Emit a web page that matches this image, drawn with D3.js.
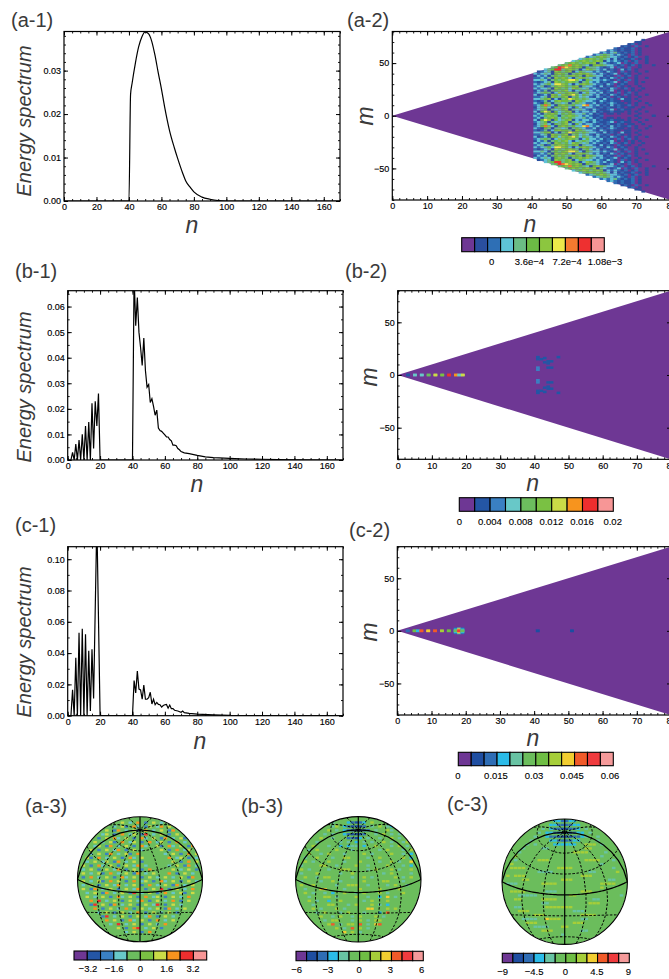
<!DOCTYPE html>
<html>
<head>
<meta charset="utf-8">
<script src="https://cdn.jsdelivr.net/npm/d3@7"></script>
<style>
    html, body { margin: 0; padding: 0; background: #fff; overflow: hidden; }
    svg { display: block; font-family: 'Liberation Sans', Arial, sans-serif; }
    .tick text { fill: #000; font-size: 9px; stroke: #000; stroke-width: 0.15px; }
    .title { fill: #3a3a3a; font-size: 20px; }
    .axisName { fill: #3a3a3a; font-style: italic; text-anchor: middle; }
    .legendLabel { fill: #000; font-size: 9.5px; text-anchor: middle; stroke: #000; stroke-width: 0.12px; }
</style>
</head>
<body>
<svg id="fig" width="669" height="979"></svg>
<script>
// spectra: [n, energy]
const a1Spectrum = [[0, 0], [40, 0], [41, 0.0245], [42, 0.0272], [44, 0.0318], [46, 0.0355], [48, 0.0378], [50, 0.0389], [52, 0.0385],
    [54, 0.0368], [56, 0.0336], [58, 0.0296], [60, 0.0258], [62, 0.0216], [65, 0.0162], [68, 0.0122], [70, 0.0098], [73, 0.0065],
    [75, 0.0046], [78, 0.0030], [80, 0.0021], [85, 0.0009], [90, 0.0004], [95, 0.0001], [100, 0], [170, 0]];

const b1Spectrum = [[0, 0], [2, 0], [3, 0.003], [4, 0], [5, 0.0062], [6, 0], [7, 0.0078], [8, 0], [9, 0.0101], [10, 0], [11, 0.0133], [12, 0],
    [13, 0.0148], [14, 0], [15, 0.0222], [16, 0.0045], [17, 0.023], [18, 0.0133], [19, 0.026], [20, 0], [40, 0], [41, 0.072], [42, 0.0525],
    [43, 0.0635], [44, 0.05], [45, 0.044], [46, 0.037], [47, 0.0477], [48, 0.035], [49, 0.0285], [50, 0.0295], [51, 0.0225], [52, 0.024],
    [53, 0.021], [54, 0.0175], [55, 0.0195], [56, 0.0125], [57, 0.0115], [58, 0.0112], [59, 0.0105], [60, 0.0098], [61, 0.009], [62, 0.009],
    [63, 0.008], [64, 0.0075], [65, 0.0058], [66, 0.0058], [67, 0.0056], [68, 0.0045], [69, 0.004], [70, 0.0033], [72, 0.0028], [75, 0.0025],
    [80, 0.0018], [85, 0.0012], [90, 0.0009], [100, 0.0006], [110, 0.0004], [120, 0.0003], [140, 0.0001], [170, 0]];

const c1Spectrum = [[0, 0], [2, 0], [3, 0.0165], [4, 0], [5, 0.037], [6, 0], [7, 0.053], [8, 0], [9, 0.0555], [10, 0], [11, 0.052], [12, 0],
    [13, 0.0415], [14, 0.003], [15, 0.0425], [16, 0.011], [18, 0.125], [20, 0], [40, 0], [41, 0.0225], [42, 0.0145], [43, 0.0285], [44, 0.017],
    [45, 0.0165], [46, 0.0105], [47, 0.0195], [48, 0.0105], [49, 0.0105], [50, 0.0115], [51, 0.015], [52, 0.0075], [53, 0.0105], [54, 0.007],
    [55, 0.0085], [56, 0.0072], [57, 0.007], [58, 0.0055], [59, 0.0065], [60, 0.007], [61, 0.0072], [62, 0.0048], [63, 0.0068], [64, 0.0045],
    [65, 0.0045], [66, 0.0035], [68, 0.003], [70, 0.0022], [71, 0.003], [72, 0.002], [75, 0.0015], [80, 0.001], [90, 0.0005], [100, 0.0002],
    [120, 0.0001], [170, 0]];

// (a-2) one string per |m| = 0, 2, 4 ..., one colour index per n from 41; "." lies outside the wedge
const a2Rows = [
    "3235654145654323211200000000010000100000",
    "2314565354543342312101101001001000000000",
    "3157615345613233231211211101010010000000",
    "2345143456143432132112301211001000000000",
    "1346315456315323321212112101100100000000",
    "2358631565453378323121312112010001000000",
    "3215414434145432231212321101010010000000",
    "2124135655416543321321211011001000000000",
    "3345613145765454332131210311010000000000",
    "2234165456145343213212012101001000000000",
    "3123165365675354323121321021010010000000",
    "2345413645654135332312102012010000000000",
    "1324145456313454323212301010101000000000",
    "3233416545365434232121320120100100000000",
    "2341245665456143321312102101001000000000",
    "3234537765313565432213201210010000000000",
    "2123416545654145323121230120010100000000",
    "3343145456776315433232102102010000000000",
    "2232416565314654323121320210010010000000",
    "1323145454565416543312102012010000000000",
    "3234315654145656432321230121001000000000",
    ".123416545613543323213210201010010000000",
    "...3459945654136543231210312010000000000",
    ".....45987656515443212302102001000000000",
    ".......456856543156543321201201000100000",
    ".........456545656143212302102001000000",
    "...........345654565132321201200100000",
    ".............345654543131211201010000",
    "...............234565433212012001000",
    ".................234543232102010000",
    "...................232342121201000",
    ".....................232121120100",
    ".......................212112010000",
    ".........................12102001",
    "...........................1201000",
    ".............................110000",
    "...............................10000"
];

// (b-2), (c-2): [n, |m|, colour index] for the few cells off the background
const b2Cells = [[3, 0, 1], [5, 0, 3], [7, 0, 3], [9, 0, 4], [11, 0, 6], [13, 0, 5], [15, 0, 8], [17, 0, 7], [18, 0, 3], [19, 0, 6],
    [41, 17, 1], [41, 15, 1], [41, 7, 2], [41, 5, 2], [42, 15, 1], [43, 16, 1], [43, 12, 1], [44, 13, 1], [44, 11, 1], [44, 7, 1],
    [45, 13, 1], [45, 7, 1], [47, 17, 1]];

const c2Cells = [[3, 0, 2], [5, 0, 6], [6, 0, 3], [7, 0, 9], [9, 0, 8], [11, 0, 9], [13, 0, 7], [15, 0, 6], [17, 2, 2], [17, 1, 3], [17, 0, 5],
    [18, 2, 4], [18, 1, 8], [18, 0, 10], [19, 2, 2], [19, 1, 3], [19, 0, 5], [41, 0, 1], [51, 0, 1]];

const a3Grid = [
    "................................",
    "...........6.3.7.2.6.3..........",
    ".........3.62.73.26.37.6.3......",
    ".......6.27.3.62.7.3.6.27.3.....",
    "......36.2.7.36.28.3.6.2.6.3....",
    ".....2.6.73.6.2.73.6.27.3.62....",
    "....6.3.62.7.36.2.7.36.2.7.3.6..",
    "....36.27.3.6.2.73..62.73.6.27..",
    "...6.2.6.37.2.6.3....6.2.7.36.3.",
    "...3.6.27.3.62.7......3.6.2.7.6.",
    "..62.7.3.6.2.73.6......7.36.2.3.",
    "..3.6.36.27.3.6.2.......6.2.7.6.",
    ".6.2.73.6.2.6.37.3.....3.6.27.3.",
    ".3.6.2.6.37.2.6.2.7.....6.3.6.2.",
    ".6.3.62.7.3.6.27.3.6...7.2.6.3..",
    ".2.7.3.6.2.73.6.2.6.3.6.3.6.27..",
    ".6.3.62.7.6.2.7.36.2.73.6.2.6.3.",
    ".3.6.2.6.37.3.6.2.7.3.6.27.3.6..",
    ".6.27.3.6.2.6.37.2.6.8.2.6.3.7..",
    "..3.6.27.3.6.28.3.6.2.7.3.62.6..",
    "..6.3.6.2.73.6.2.7.36.2.6.3.7...",
    "...7.8.3.6.2.6.37.2.6.3.7.2.6...",
    "...28.6.27.3.6.2.6.38.2.6.3.....",
    "....7.2.6.3.7.2.6.3.6.27.3.6....",
    ".....3.6.2.6.3.7.2.6.3.6.2......",
    "......28.3.6.2.6.37.2.6.3.......",
    ".......7.6.2.73.6.2.7.3.6.......",
    "........3.8.3.6.2.6.3.7.........",
    "..........6.2.78.3.6.2..........",
    "............3.6.2.7.............",
    "................................",
    "................................"
];

const b3Grid = [
    "................................",
    ".........4...32123.7...4........",
    ".........47.321112.4.7.43.......",
    "........7.4.3211112.4..74.......",
    ".......4.4..321112..4.7.4.4.....",
    "......7..4...2213.4..4..7.4.7...",
    ".....4.....4.4.3.4.4..7.4..47...",
    "....7...4..3.344.3..7...4.7.4...",
    "...4.7....7...4......4.7...4.7..",
    "...7..4.7...4....7.4....7..4.3..",
    "..4..7...4..77....4..7.....7.3..",
    "..7.4...7...4...7....4..7.4..8..",
    ".4....77..4....7..4....7...4.3..",
    ".7.4....4..777....4.7...7.4..7..",
    ".4...7.....4..7.......4.7....4..",
    "..7..4.77.....4..7.4.....7.4.7..",
    ".4....4..7.4.....7....77...4....",
    ".7..7.....4..777..4....4.7..4...",
    "..4...88....4...7....7....7.....",
    "..7.4..4.3..7..4.7...7.4...7....",
    "...4...77.4....7..4..3.8.4......",
    "...7.4..3..7.....4.7...7........",
    "....4...77...4.7...7.4.3........",
    "....7.4...7.4.....88...7.7......",
    ".....4.7...4.7...4...3.9........",
    "......7..4.7..4.7...7.4.........",
    ".......4.77...4.7.4.77..........",
    "........79.4.77.9.4.89..........",
    "..........7.4.9.7.4.............",
    "............8.7.4...............",
    "................................",
    "................................"
];

const c3Grid = [
    ".............332233.............",
    "............33222233............",
    "..........4.32211223.4..........",
    ".........4.3321111233 4.........",
    "........4..32211112234..4.......",
    ".......4....33222233....4.......",
    "......4.4....333333..777.4......",
    ".....4....44.........77.........",
    "....4.............7777....4.....",
    "...7.....................4......",
    "...4.....777.........7777...4...",
    "..7......................4......",
    "..7777........7777..........4...",
    ".........4444.........44.....7..",
    ".7.777..............777.........",
    ".....77........777.........44...",
    ".444......7777...........7777...",
    ".........................7......",
    "..7777.....444......777.........",
    "....44444........77...........4.",
    "...77.....7777.........44.......",
    "..........44..........777.......",
    "...44......7777777..............",
    "....777...........444...........",
    "........777.........7777........",
    ".....4444..8777.....44..........",
    "......777.........777...........",
    "........4444...77...............",
    "..........777.......44..........",
    "...............4................",
    "................................",
    "................................"
].map(row => row.replace(/ /g, "."));

// colour keys
const aColors = ["#6e3794", "#2a4f9f", "#2e6fb5", "#5ec3d6", "#6bbd85", "#6cbb45", "#8cc63f", "#ece94a", "#f47a2f", "#ee3030", "#f59595"];
const bColors = ["#6e3794", "#2456a5", "#3a80c3", "#68c8c8", "#6cbd5e", "#7ac143", "#cbdb47", "#f7941e", "#ee2e2e", "#f79696"];
const cColors = ["#6e3794", "#1f4ea1", "#2e6db5", "#2bbbe8", "#68c3a3", "#6bbd5c", "#6fbe44", "#a6ce39", "#f2cd30", "#f15a29", "#ef3b3e", "#f59a9a"];

const aKeyLabels = ["0", "3.6e\u22124", "7.2e\u22124", "1.08e\u22123"];
const bKeyLabels = ["0", "0.004", "0.008", "0.012", "0.016", "0.02"];
const cKeyLabels = ["0", "0.015", "0.03", "0.045", "0.06"];
const a3KeyLabels = ["\u22123.2", "\u22121.6", "0", "1.6", "3.2"];
const b3KeyLabels = ["\u22126", "\u22123", "0", "3", "6"];
const c3KeyLabels = ["\u22129", "\u22124.5", "0", "4.5", "9"];

const svg = d3.select("#fig");
let clipCount = 0;

function addClip(parent, build) {
    const id = "clip" + (clipCount++);
    build(parent.append("clipPath").attr("id", id));
    return "url(#" + id + ")";
}

function tickSet(domain, step) {
    return d3.range(Math.ceil(domain[0] / step), Math.floor(domain[1] / step + 1e-6) + 1).map(k => k * step);
}

function drawAxes(x, y, box, opt) {
    const xAll = tickSet(x.domain(), opt.xMinor);
    const yAll = tickSet(y.domain(), opt.yMinor);
    const xMajor = tickSet(x.domain(), opt.xMajor);
    const yMajor = tickSet(y.domain(), opt.yMajor);
    const axes = [
        [d3.axisBottom(x), box.y1, true, xAll, xMajor],
        [d3.axisTop(x), box.y0, true, xAll, xMajor],
        [d3.axisLeft(y), box.x0, false, yAll, yMajor],
        [d3.axisRight(y), box.x1, false, yAll, yMajor]
    ];
    axes.forEach(([axis, pos, horizontal, all, major], i) => {
        const tr = horizontal ? "translate(0," + pos + ")" : "translate(" + pos + ",0)";
        svg.append("g").attr("transform", tr)
            .call(axis.tickValues(all).tickSize(-2).tickFormat(""))
            .call(g => g.select(".domain").remove())
            .selectAll("line").attr("stroke", "#000").attr("stroke-width", 0.9);
        const withText = i === 0 || i === 2;
        const fmt = withText ? (horizontal ? opt.xFormat : opt.yFormat) : "";
        const a = axis.tickValues(major).tickSize(-4).tickPadding(3).tickFormat(fmt);
        svg.append("g").attr("transform", tr)
            .call(a)
            .call(g => g.select(".domain").remove())
            .selectAll("line").attr("stroke", "#000").attr("stroke-width", 1);
    });
    svg.append("rect")
        .attr("x", box.x0).attr("y", box.y0)
        .attr("width", box.x1 - box.x0).attr("height", box.y1 - box.y0)
        .attr("fill", "none").attr("stroke", "#000").attr("stroke-width", 1.2);
}

function drawSpectrum(values, box, yMax, yMinor, label) {
    const x = d3.scaleLinear().domain([0, 170]).range([box.x0, box.x1]);
    const y = d3.scaleLinear().domain([0, yMax]).range([box.y1, box.y0]);
    const clip = addClip(svg, c => c.append("rect")
        .attr("x", box.x0).attr("y", box.y0)
        .attr("width", box.x1 - box.x0).attr("height", box.y1 - box.y0));
    svg.append("path")
        .attr("clip-path", clip)
        .attr("d", d3.line().curve(label.curve || d3.curveLinear).x(d => x(d[0])).y(d => y(d[1]))(values))
        .attr("fill", "none").attr("stroke", "#000").attr("stroke-width", 1.2);
    drawAxes(x, y, box, {
        xMajor: 20, xMinor: 5, yMajor: label.yStep, yMinor: yMinor,
        xFormat: d3.format("d"), yFormat: d3.format(".2f")
    });
    svg.append("text").attr("class", "axisName")
        .attr("transform", "translate(" + label.yx + "," + label.yy + ") rotate(-90)")
        .attr("font-size", 20).text("Energy spectrum");
    svg.append("text").attr("class", "axisName")
        .attr("x", label.nx).attr("y", label.ny).attr("font-size", 23).text("n");
}

function drawConeMap(rows, cells, colors, box, label) {
    const x = d3.scaleLinear().domain([0, 80]).range([box.x0, box.x1]);
    const y = d3.scaleLinear().domain([-80, 80]).range([box.y1, box.y0]);
    const clip = addClip(svg, c => c.append("rect")
        .attr("x", box.x0).attr("y", box.y0)
        .attr("width", box.x1 - box.x0).attr("height", box.y1 - box.y0));
    const g = svg.append("g").attr("clip-path", clip);

    g.append("path")
        .attr("d", d3.area().x(n => x(n)).y0(n => y(-n)).y1(n => y(n))([0, 80]))
        .attr("fill", colors[0]);

    // rows are indexed by |m| / 2, characters from n = 41
    const cellData = [];
    rows.forEach((row, k) => {
        row.split("").forEach((c, i) => {
            if (c !== "." && c !== "0") cellData.push({n: 41 + i, m: k * 2, h: 2, level: +c});
        });
    });
    cells.forEach(c => cellData.push({n: c[0], m: c[1], h: 2.4, level: c[2]}));

    const bothSides = cellData.flatMap(d => [Object.assign({s: 1}, d), Object.assign({s: -1}, d)]);
    g.append("g").attr("filter", "url(#soft)").selectAll("rect").data(bothSides).enter().append("rect")
        .attr("x", d => x(d.n - 0.5)).attr("width", x(1) - x(0) + 0.3)
        .attr("y", d => y(d.s * d.m + d.h / 2)).attr("height", d => y(0) - y(d.h))
        .attr("fill", d => colors[d.level]);

    drawAxes(x, y, box, {
        xMajor: 10, xMinor: 2, yMajor: 50, yMinor: 10,
        xFormat: d3.format("d"), yFormat: d3.format("d")
    });
    svg.append("text").attr("class", "axisName")
        .attr("x", label.nx).attr("y", label.ny).attr("font-size", 23).text("n");
    svg.append("text").attr("class", "axisName")
        .attr("transform", "translate(" + label.mx + "," + label.my + ") rotate(-90)")
        .attr("font-size", 23).text("m");
}

function drawKey(colors, labels, box) {
    const band = d3.scaleBand().domain(d3.range(colors.length)).range([box.x0, box.x1]);
    svg.append("g").selectAll("rect").data(colors).enter().append("rect")
        .attr("x", (d, i) => band(i)).attr("y", box.y0)
        .attr("width", band.bandwidth()).attr("height", box.y1 - box.y0)
        .attr("fill", d => d).attr("stroke", "#000").attr("stroke-width", 1.1);
    const pos = d3.scalePoint().domain(labels).range([box.l0, box.l1]);
    svg.append("g").selectAll("text").data(labels).enter().append("text")
        .attr("class", "legendLabel").attr("x", d => pos(d)).attr("y", box.ly).text(d => d);
}

function drawSphere(grid, colors, bgLevel, cx, cy, r) {
    const projection = d3.geoAzimuthalEquidistant()
        .rotate([0, -19]).clipAngle(90)
        .scale(r / (Math.PI / 2)).translate([cx, cy]).precision(0.3);
    const path = d3.geoPath(projection);
    const clip = addClip(svg, c => c.append("circle").attr("cx", cx).attr("cy", cy).attr("r", r));

    const gx = d3.scaleBand().domain(d3.range(32)).range([cx - r, cx + r]);
    const gy = d3.scaleBand().domain(d3.range(32)).range([cy - r, cy + r]);
    const cells = [];
    grid.forEach((row, j) => row.split("").forEach((c, i) => {
        if (c !== ".") cells.push({i: i, j: j, level: +c});
    }));
    const g = svg.append("g").attr("clip-path", clip);
    g.append("path").datum({type: "Sphere"}).attr("d", path).attr("fill", colors[bgLevel]);
    g.append("g").attr("filter", "url(#softer)").selectAll("rect").data(cells).enter().append("rect")
        .attr("x", d => gx(d.i) + 0.2).attr("y", d => gy(d.j) + 0.8)
        .attr("width", gx.bandwidth() - 0.4).attr("height", gy.bandwidth() - 1.6)
        .attr("fill", d => colors[d.level]);

    const lines = d3.geoGraticule().step([30, 30]).extent([[-180, -90], [180, 90.01]]).lines();
    const isSolid = l => {
        const c = l.coordinates;
        if (c[0][0] === c[1][0]) return Math.abs(c[0][0]) % 90 === 0;
        return c[0][1] === 0;
    };
    g.selectAll(".grat").data(lines).enter().append("path")
        .attr("d", path).attr("fill", "none").attr("stroke", "#000")
        .attr("stroke-width", l => isSolid(l) ? 1.2 : 1)
        .attr("stroke-dasharray", l => isSolid(l) ? null : "2.5,1.6");
    svg.append("circle").attr("cx", cx).attr("cy", cy).attr("r", r)
        .attr("fill", "none").attr("stroke", "#000").attr("stroke-width", 1.1);
}

const defs = svg.append("defs");
[["soft", 0.6], ["softer", 0.7]].forEach(([id, sd]) => {
    defs.append("filter").attr("id", id)
        .attr("x", "-5%").attr("y", "-5%").attr("width", "110%").attr("height", "110%")
        .append("feGaussianBlur").attr("stdDeviation", sd);
});

const titles = [["(a-1)", 11, 27], ["(a-2)", 347, 27], ["(b-1)", 15, 278], ["(b-2)", 345, 278], ["(c-1)", 15, 532], ["(c-2)", 349, 537],
    ["(a-3)", 25, 813], ["(b-3)", 241, 813], ["(c-3)", 447, 811]];
svg.append("g").selectAll("text").data(titles).enter().append("text")
    .attr("class", "title").attr("x", d => d[1]).attr("y", d => d[2]).text(d => d[0]);

drawSpectrum(a1Spectrum, {x0: 64, x1: 340, y0: 31.5, y1: 201}, 0.039, 0.002,
    {yStep: 0.01, yx: 31, yy: 121, nx: 192, ny: 233, curve: d3.curveMonotoneX});
drawSpectrum(b1Spectrum, {x0: 67.7, x1: 343, y0: 290.7, y1: 460}, 0.0662, 0.005,
    {yStep: 0.01, yx: 31, yy: 387, nx: 197, ny: 492});
drawSpectrum(c1Spectrum, {x0: 67.7, x1: 343, y0: 546.7, y1: 715.7}, 0.108, 0.01,
    {yStep: 0.02, yx: 31, yy: 642, nx: 200, ny: 749});

drawConeMap(a2Rows, [], aColors, {x0: 392.3, x1: 671, y0: 31.5, y1: 200}, {nx: 530, ny: 232, mx: 373, my: 116});
drawConeMap([], b2Cells, bColors, {x0: 397.7, x1: 671, y0: 290.7, y1: 459.3}, {nx: 532.7, ny: 491, mx: 377, my: 377});
drawConeMap([], c2Cells, cColors, {x0: 397.3, x1: 671, y0: 546.7, y1: 715}, {nx: 533, ny: 746, mx: 377, my: 632});

drawKey(aColors, aKeyLabels, {x0: 461.7, x1: 604.3, y0: 237.7, y1: 251.7, l0: 491.7, l1: 605, ly: 265});
drawKey(bColors, bKeyLabels, {x0: 459.3, x1: 613.3, y0: 497.7, y1: 511.3, l0: 459.3, l1: 612.7, ly: 525});
drawKey(cColors, cKeyLabels, {x0: 458.3, x1: 613.3, y0: 752.3, y1: 765.7, l0: 458, l1: 610, ly: 779});

drawSphere(a3Grid, bColors, 4, 140, 879.3, 62.5);
drawSphere(b3Grid, cColors, 5, 358.3, 879.3, 62.7);
drawSphere(c3Grid, cColors, 5, 564.7, 881.7, 62.7);

drawKey(bColors, a3KeyLabels, {x0: 74, x1: 206.7, y0: 951, y1: 960, l0: 88, l1: 193, ly: 971.5});
drawKey(cColors, b3KeyLabels, {x0: 296, x1: 423.3, y0: 951.3, y1: 960.7, l0: 296.7, l1: 421.7, ly: 972.5});
drawKey(cColors, c3KeyLabels, {x0: 502.3, x1: 629.3, y0: 953.3, y1: 962.7, l0: 502.7, l1: 628.3, ly: 974.5});
</script>
</body>
</html>
